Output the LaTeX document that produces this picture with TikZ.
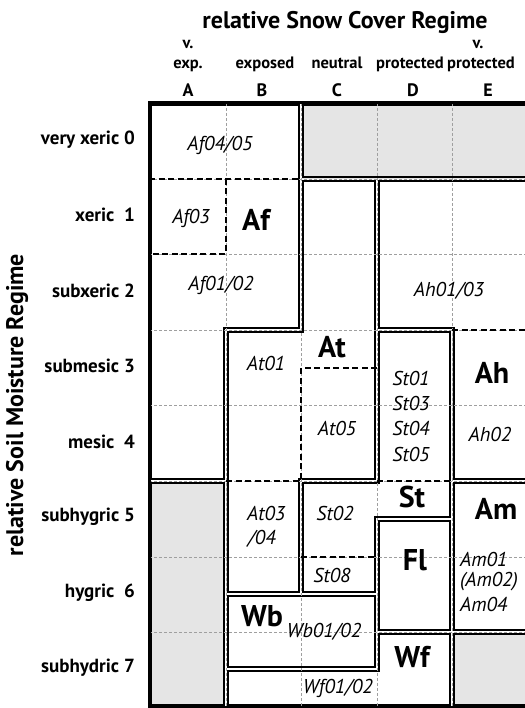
\documentclass[tikz,border=0pt]{standalone}
\usepackage{fontspec}
\setmainfont{PT Sans}
\newcommand\regionoutline[1]{\begin{scope}\clip #1;\draw[regionline] #1;\end{scope}}
\begin{document}
\begin{tikzpicture}[x=1pt,y=-1pt,
  regionline/.style={draw=black,line width=2.5pt,double=white,double distance=1.4pt},
  gridline/.style={draw=gray!75,line width=0.7pt,dash pattern=on 3pt off 2pt},
  subdiv/.style={draw=black,line width=1.9pt,dash pattern=on 6pt off 3.5pt},
  frameline/.style={draw=black,line width=3pt},
  graycell/.style={fill=gray!20},
  titletext/.style={font=\fontsize{24}{26}\selectfont\bfseries,inner sep=0pt},
  hdr/.style={font=\fontsize{16.5}{18}\selectfont\bfseries,inner sep=0pt,anchor=base},
  colletter/.style={font=\fontsize{18}{20}\selectfont\bfseries,inner sep=0pt,anchor=base},
  rowlab/.style={font=\fontsize{19}{21}\selectfont\bfseries,inner sep=0pt,anchor=east},
  subtext/.style={font=\fontsize{20}{22}\selectfont\itshape,inner sep=0pt},
  bigtext/.style={font=\fontsize{30}{32}\selectfont\bfseries,inner sep=0pt}]
\useasboundingbox (0,0) rectangle (524,708);
% gray cells
\fill[graycell] (301,103) rectangle (528,179);
\fill[graycell] (149,481) rectangle (226,707);
\fill[graycell] (452,632) rectangle (528,707);
% region outlines
\regionoutline{(149,103) -- (301,103) -- (301,330) -- (226,330) -- (226,481) -- (149,481) -- cycle}
\regionoutline{(301,103) -- (528,103) -- (528,179) -- (301,179) -- cycle}
\regionoutline{(301,179) -- (377,179) -- (377,481) -- (301,481) -- (301,594) -- (226,594) -- (226,330) -- (301,330) -- cycle}
\regionoutline{(377,179) -- (528,179) -- (528,481) -- (452,481) -- (452,330) -- (377,330) -- cycle}
\regionoutline{(301,481) -- (377,481) -- (377,330) -- (452,330) -- (452,519) -- (377,519) -- (377,594) -- (301,594) -- cycle}
\regionoutline{(377,519) -- (452,519) -- (452,632) -- (377,632) -- cycle}
\regionoutline{(452,481) -- (528,481) -- (528,632) -- (452,632) -- cycle}
\regionoutline{(149,481) -- (226,481) -- (226,707) -- (149,707) -- cycle}
\regionoutline{(226,594) -- (377,594) -- (377,669) -- (226,669) -- cycle}
\regionoutline{(226,669) -- (377,669) -- (377,632) -- (452,632) -- (452,707) -- (226,707) -- cycle}
\regionoutline{(452,632) -- (528,632) -- (528,707) -- (452,707) -- cycle}
% grid
\foreach \gx in {226,301,377,452} \draw[gridline] (\gx,103) -- (\gx,707);
\foreach \gy in {179,254,330,405,481,557,632} \draw[gridline] (149,\gy) -- (528,\gy);
% sub-dividers
\draw[subdiv] (149,179) -- (301,179);
\draw[subdiv] (226,179) -- (226,254) -- (149,254);
\draw[subdiv] (377,368) -- (301,368) -- (301,481);
\draw[subdiv] (226,481) -- (301,481);
\draw[subdiv] (377,481) -- (452,481);
\draw[subdiv] (301,557) -- (377,557);
\draw[subdiv] (452,330) -- (528,330);
% frame
\draw[frameline] (149,103) rectangle (528,707);
% titles
\node[titletext,anchor=base] (title) at (345,28.5) {relative Snow Cover Regime};
\node[titletext,rotate=90] (ylabel) at (17,405) {relative Soil Moisture Regime};
% column headers
\node[hdr] (hA1) at (188,48.3) {v.};
\node[hdr] (hA2) at (188,69) {exp.};
\node[hdr] (hB) at (265,69) {exposed};
\node[hdr] (hC) at (337,69) {neutral};
\node[hdr] (hD) at (410,69) {protected};
\node[hdr] (hE1) at (478,48.3) {v.};
\node[hdr] (hE2) at (481,69) {protected};
\node[colletter] (lA) at (188,96.7) {A};
\node[colletter] (lB) at (262,96.7) {B};
\node[colletter] (lC) at (337,96.7) {C};
\node[colletter] (lD) at (413,96.7) {D};
\node[colletter] (lE) at (488,96.7) {E};
% row labels
\node[rowlab] (r0) at (135,140) {very xeric 0};
\node[rowlab] (r1) at (135,215) {xeric~~1};
\node[rowlab] (r2) at (135,291) {subxeric 2};
\node[rowlab] (r3) at (135,366) {submesic 3};
\node[rowlab] (r4) at (135,442) {mesic~~4};
\node[rowlab] (r5) at (135,517) {subhygric 5};
\node[rowlab] (r6) at (135,593) {hygric~~6};
\node[rowlab] (r7) at (135,668) {subhydric 7};
% cell labels
\node[subtext] (af0405) at (220,145) {Af04/05};
\node[subtext] (af03) at (191,218) {Af03};
\node[bigtext] (af) at (256,220) {Af};
\node[subtext] (af0102) at (221,285) {Af01/02};
\node[subtext] (ah0103) at (449,291) {Ah01/03};
\node[subtext] (at01) at (266,363) {At01};
\node[bigtext] (at) at (332,347) {At};
\node[subtext] (at05) at (337,428) {At05};
\node[subtext] (st01) at (411,378) {St01};
\node[subtext] (st03) at (411,403) {St03};
\node[subtext] (st04) at (411,428) {St04};
\node[subtext] (st05) at (411,454) {St05};
\node[bigtext] (ah) at (492,373) {Ah};
\node[subtext] (ah02) at (490,434) {Ah02};
\node[bigtext] (st) at (412,497) {St};
\node[subtext,anchor=west] (at03) at (247,513) {At03};
\node[subtext,anchor=west] (at04) at (248,539) {/04};
\node[subtext] (st02) at (335,513) {St02};
\node[subtext] (st08) at (332,575) {St08};
\node[bigtext] (fl) at (415,560) {Fl};
\node[bigtext] (am) at (496,509) {Am};
\node[subtext,anchor=west] (am01) at (460,559) {Am01};
\node[subtext,anchor=west] (am02) at (460,582) {(Am02)};
\node[subtext,anchor=west] (am04) at (460,604) {Am04};
\node[bigtext] (wb) at (262,616) {Wb};
\node[subtext] (wb0102) at (324,632) {Wb01/02};
\node[bigtext] (wf) at (412,657) {Wf};
\node[subtext] (wf0102) at (338,688) {Wf01/02};
\end{tikzpicture}
\end{document}
